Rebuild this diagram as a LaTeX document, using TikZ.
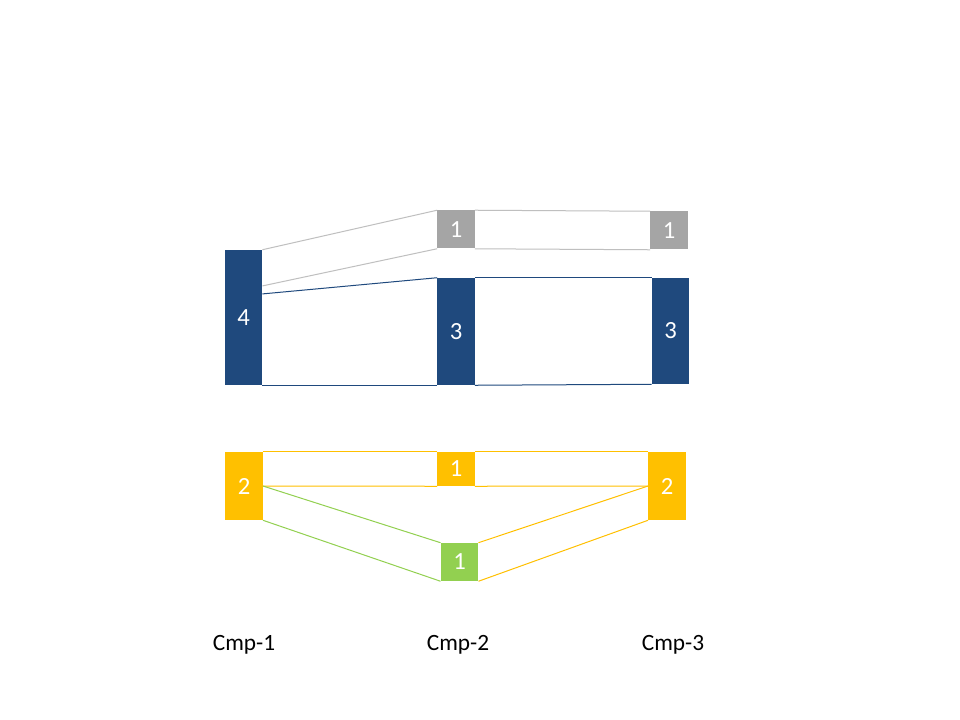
\documentclass[tikz,border=0pt]{standalone}
\usepackage{fontspec}
\setmainfont{Carlito}
\usetikzlibrary{calc}
\definecolor{cblue}{HTML}{1F497D}
\definecolor{cgray}{HTML}{A5A5A5}
\definecolor{cgrayline}{HTML}{BFBFBF}
\definecolor{cyellow}{HTML}{FFC000}
\definecolor{cgreen}{HTML}{92D050}
\begin{document}
\begin{tikzpicture}[x=0.75pt,y=-0.75pt,
  bar/.style={rectangle,inner sep=0pt,text=white,font=\fontsize{18.5}{22}\selectfont,minimum width=28pt},
  link/.style={line width=0.75pt},
  cmplabel/.style={font=\fontsize{17.5}{21}\selectfont,text=black}]
\useasboundingbox[fill=white] (0,0) rectangle (960,720);
% Cmp-1
\node[bar,fill=cblue,minimum height=101.25pt] (b4) at (243.5,317.5) {4};
\node[bar,fill=cyellow,minimum height=51pt] (y2a) at (244,486) {2};
% Cmp-2
\node[bar,fill=cgray,minimum height=28.5pt] (g1a) at (456,229.5) {1};
\node[bar,fill=cblue,minimum height=80.25pt] (b3a) at (456,331.5) {3};
\node[bar,fill=cyellow,minimum height=25.5pt] (y1) at (456,469) {1};
\node[bar,fill=cgreen,minimum height=28.5pt] (gr) at (459.5,562) {1};
% Cmp-3
\node[bar,fill=cgray,minimum height=28.5pt] (g1b) at (669,230.5) {1};
\node[bar,fill=cblue,minimum height=79.5pt] (b3b) at (670.5,331) {3};
\node[bar,fill=cyellow,minimum height=51pt] (y2b) at (667,486) {2};
% attachment points
\coordinate (b4g) at ($(b4.north east)!0.267!(b4.south east)$);
\coordinate (b4b) at ($(b4.north east)!0.326!(b4.south east)$);
% gray links
\draw[link,cgrayline] (b4.north east) -- (g1a.north west);
\draw[link,cgrayline] (b4g) -- (g1a.south west);
\draw[link,cgrayline] (g1a.north east) -- (g1b.north west);
\draw[link,cgrayline] (g1a.south east) -- (g1b.south west);
% blue links
\draw[link,cblue] (b4b) -- (b3a.north west);
\draw[link,cblue] (b4.south east) -- (b3a.south west);
\draw[link,cblue] (b3a.north east) -- (b3b.north west);
\draw[link,cblue] (b3a.south east) -- (b3b.south west);
% yellow links
\draw[link,cyellow] (y2a.north east) -- (y1.north west);
\draw[link,cyellow] (y2a.east) -- (y1.south west);
\draw[link,cyellow] (y1.north east) -- (y2b.north west);
\draw[link,cyellow] (y1.south east) -- (y2b.west);
% green links
\draw[link,cgreen] (y2a.east) -- (gr.north west);
\draw[link,cgreen] (y2a.south east) -- (gr.south west);
% yellow links from green
\draw[link,cyellow] (gr.north east) -- (y2b.west);
\draw[link,cyellow] (gr.south east) -- (y2b.south west);
% captions
\node[cmplabel] (c1) at (244,645) {Cmp-1};
\node[cmplabel] (c2) at (458,645) {Cmp-2};
\node[cmplabel] (c3) at (673,645) {Cmp-3};
\end{tikzpicture}
\end{document}
